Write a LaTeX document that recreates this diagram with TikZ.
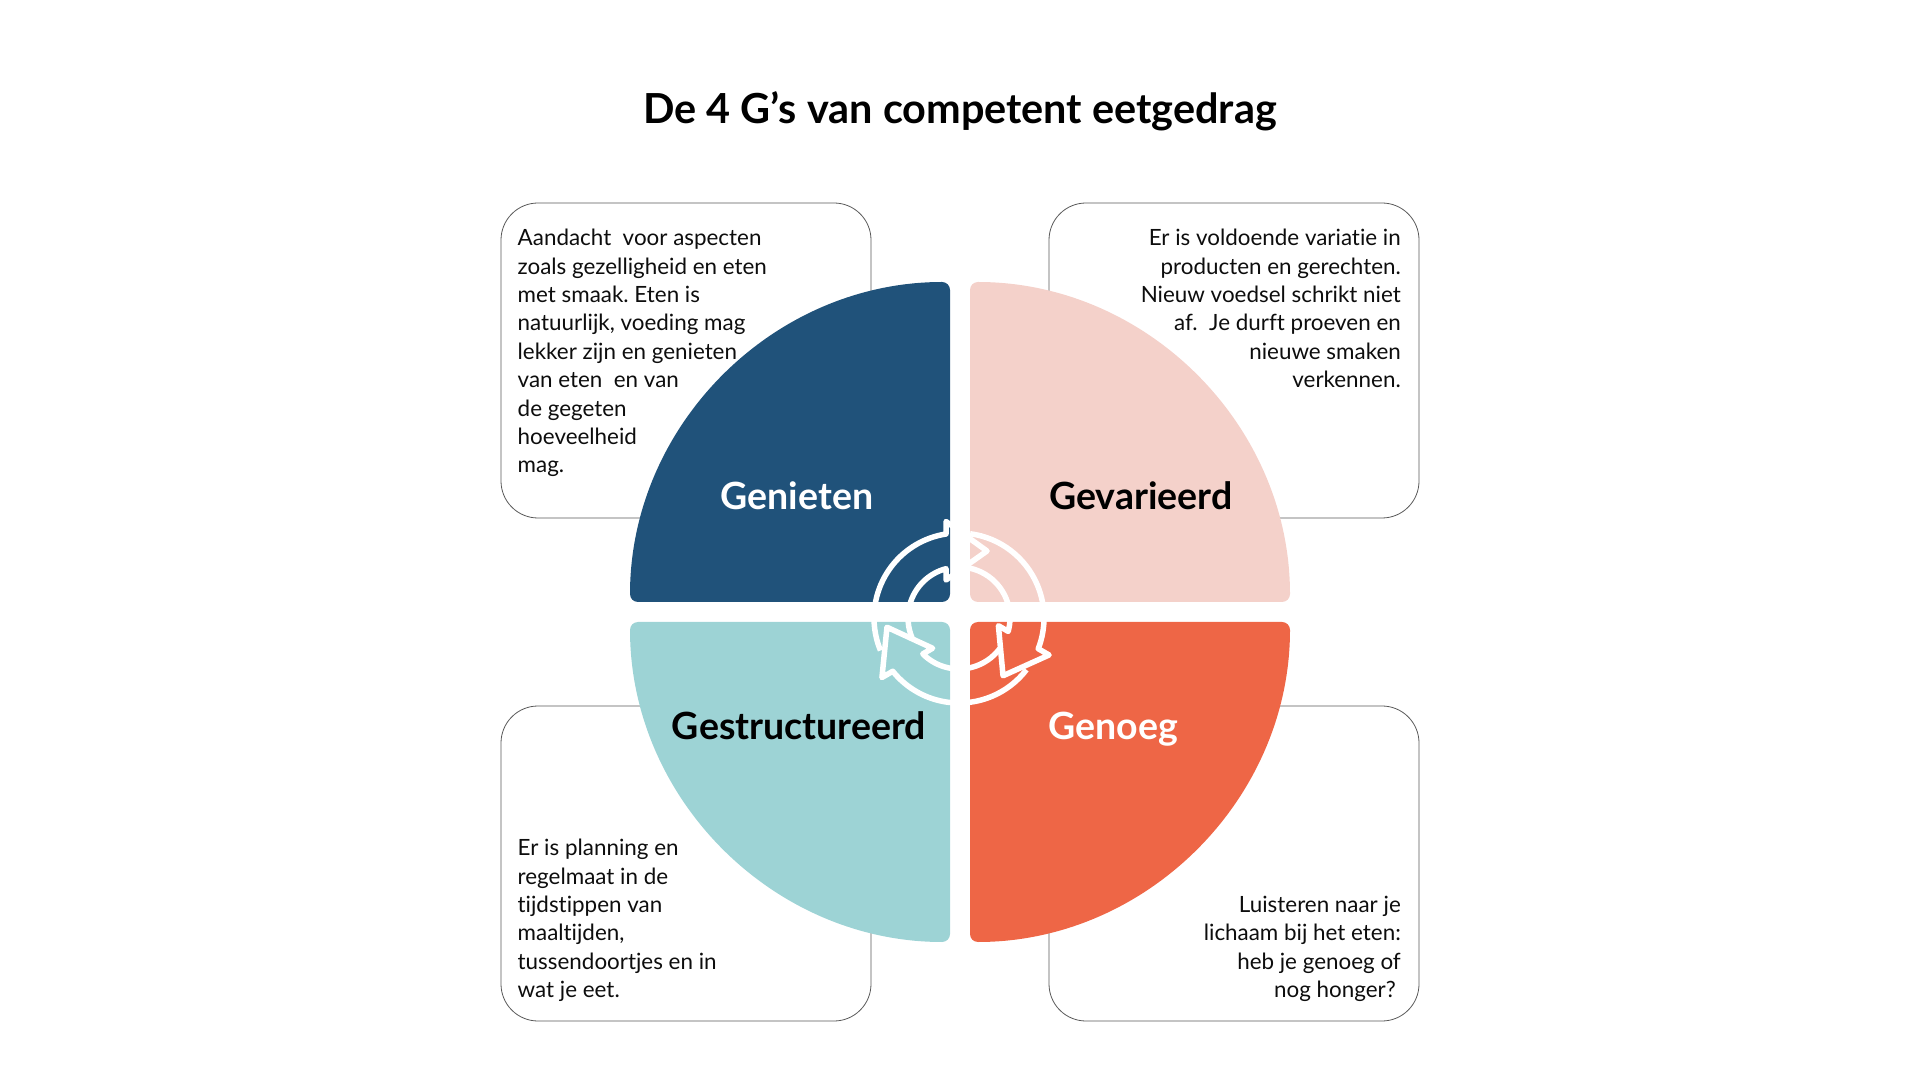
\documentclass[tikz,border=0pt]{standalone}
\usepackage{fontspec}
\setmainfont{Lato}[Ligatures=NoCommon]
\definecolor{geniet}{HTML}{20527A}
\definecolor{gevar}{HTML}{F4D1CA}
\definecolor{gestruct}{HTML}{9DD3D5}
\definecolor{genoeg}{HTML}{EE6646}
\tikzset{
  infobox/.style={draw=black!65, line width=0.8pt, rounded corners=37, minimum width=370, minimum height=315, inner sep=0},
  infotext/.style={inner sep=0, font=\fontsize{22.4}{28.4}\selectfont, text=black!95},
  gtitle/.style={anchor=base, font=\bfseries\fontsize{37.5}{40}\selectfont},
  cyclearrow/.style={draw=white, line width=5.5, line join=round},
}
\frenchspacing
\begin{document}
\begin{tikzpicture}[x=1pt,y=1pt]
\useasboundingbox (0,0) rectangle (1920,1080);
% title
\node[font=\bfseries\fontsize{41.4}{44}\selectfont] (title) at (960,969) {De 4 G's van competent eetgedrag};
% boxes
\node[infobox] (boxa) at (686,719.5) {};
\node[infobox] (boxb) at (1234,719.5) {};
\node[infobox] (boxc) at (686,216.5) {};
\node[infobox] (boxd) at (1234,216.5) {};
% quarters
\fill[geniet, rounded corners=8] (950,478) -- (630,478) arc[start angle=180, end angle=90, radius=320] -- cycle;
\fill[gevar, rounded corners=8] (970,478) -- (970,798) arc[start angle=90, end angle=0, radius=320] -- cycle;
\fill[gestruct, rounded corners=8] (950,458) -- (950,138) arc[start angle=270, end angle=180, radius=320] -- cycle;
\fill[genoeg, rounded corners=8] (970,458) -- (1290,458) arc[start angle=0, end angle=-90, radius=320] -- cycle;
% arrows
\foreach \rot in {0,-120,-240}{
  \begin{scope}[shift={(959,462)}, rotate=\rot]
    \draw[cyclearrow] (202.5:85) arc[start angle=202.5, end angle=98.8, radius=85] -- (-13,96.5) -- (28,67) -- (-13,38) -- (-13,49.3) arc[start angle=104.8, end angle=203, radius=51];
  \end{scope}
}
% labels
\node[gtitle, text=white] (genieten) at (797,570) {Genieten};
\node[gtitle] (gevarieerd) at (1141,570) {Gevarieerd};
\node[gtitle] (gestructureerd) at (799,340) {Gestructureerd};
\node[gtitle, text=white] (genoeglabel) at (1113,340) {Genoeg};
% texts
\node[infotext, anchor=north west, align=left] (texta) at (517.5,851) {Aandacht\ \ voor aspecten\\zoals gezelligheid en eten\\met smaak. Eten is\\natuurlijk, voeding mag\\lekker zijn en genieten\\van eten\ \ en van\\de gegeten\\hoeveelheid\\mag.};
\node[infotext, anchor=north east, align=right] (textb) at (1401,851) {Er is voldoende variatie in\\producten en gerechten.\\Nieuw voedsel schrikt niet\\af.\ \ Je durft proeven en\\nieuwe smaken\\verkennen.};
\node[infotext, anchor=north west, align=left] (textc) at (517.5,241) {Er is planning en\\regelmaat in de\\tijdstippen van\\maaltijden,\\tussendoortjes en in\\wat je eet.};
\node[infotext, anchor=north east, align=right] (textd) at (1401,184) {Luisteren naar je\\lichaam bij het eten:\\heb je genoeg of\\nog honger?\hspace*{5pt}};
\end{tikzpicture}
\end{document}
